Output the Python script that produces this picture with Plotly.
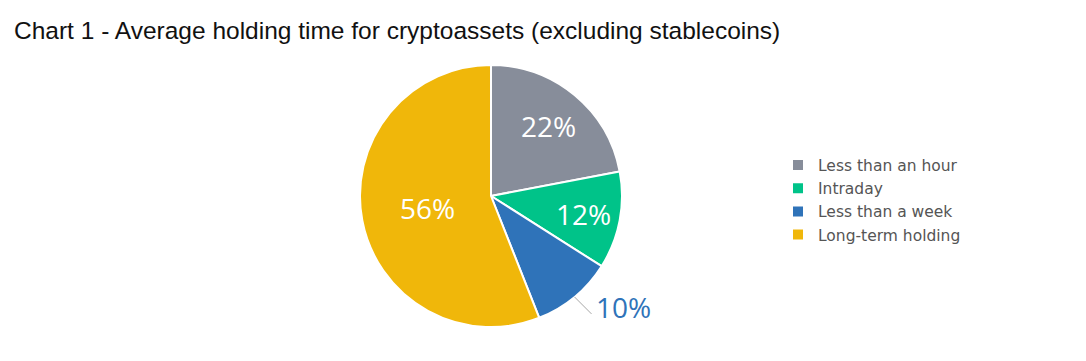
import math
import plotly.graph_objects as go

labels = ["Less than an hour", "Intraday", "Less than a week", "Long-term holding"]
values = [22, 12, 10, 56]
colors = ["#878d9a", "#00c389", "#2f73b9", "#f0b70a"]

# styling: where each percentage label sits (fraction of radius; None = outside with leader)
label_radius = [0.69, 0.72, None, 0.49]

W, H = 1086, 361
OFF = 8                      # page body margin
cx, cy, r = 491, 196, 131    # pie centre / radius in window pixels


def px(x):
    return (x - OFF) / W


def py(y):
    return 1 - (y - OFF) / H


total = sum(values)
pct_text = [f"{round(v / total * 100)}%" for v in values]

fig = go.Figure(go.Pie(
    labels=labels,
    values=values,
    sort=False,
    direction="clockwise",
    rotation=0,
    marker=dict(colors=colors, line=dict(color="#ffffff", width=2)),
    textinfo="none",
    domain=dict(x=[px(cx - r), px(cx + r)], y=[py(cy + r), py(cy - r)]),
    automargin=False,
    hoverinfo="label+percent",
))

lab_font = "Open Sans, sans-serif"
for i, v in enumerate(values):
    start = sum(values[:i]) / total
    mid = (start + v / total / 2) * 2 * math.pi
    s, c = math.sin(mid), math.cos(mid)
    if label_radius[i] is not None:
        f = label_radius[i]
        fig.add_annotation(xref="paper", yref="paper",
                           x=px(cx + f * r * s), y=py(cy - f * r * c),
                           xanchor="center", yanchor="middle", showarrow=False,
                           text=pct_text[i],
                           font=dict(family=lab_font, size=28, color="#ffffff"))
    else:
        ex, ey = cx + r * s, cy - r * c
        lx, ly = ex + 17, ey + 17
        fig.add_shape(type="line", xref="paper", yref="paper",
                      x0=px(ex), y0=py(ey), x1=px(lx), y1=py(ly),
                      line=dict(color="#a6a6a6", width=1))
        fig.add_annotation(xref="paper", yref="paper", x=px(lx + 2), y=py(ly - 7),
                           xanchor="left", yanchor="middle", showarrow=False,
                           text=pct_text[i],
                           font=dict(family=lab_font, size=28, color=colors[i]))

fig.update_layout(
    width=W, height=H,
    margin=dict(l=0, r=0, t=0, b=0),
    paper_bgcolor="#ffffff",
    title=dict(
        text="Chart 1 - Average holding time for cryptoassets (excluding stablecoins)",
        x=px(14), xanchor="left", y=py(30), yanchor="middle",
        font=dict(family="Liberation Sans, Arial, sans-serif", size=24.5, color="#111111"),
    ),
    legend=dict(
        x=px(778), xanchor="left", y=py(200), yanchor="middle",
        font=dict(family="DejaVu Sans, sans-serif", size=15.5, color="#555555"),
        itemwidth=30, tracegroupgap=0,
        bgcolor="rgba(0,0,0,0)",
    ),
    showlegend=True,
)

fig.write_html("out.html")
